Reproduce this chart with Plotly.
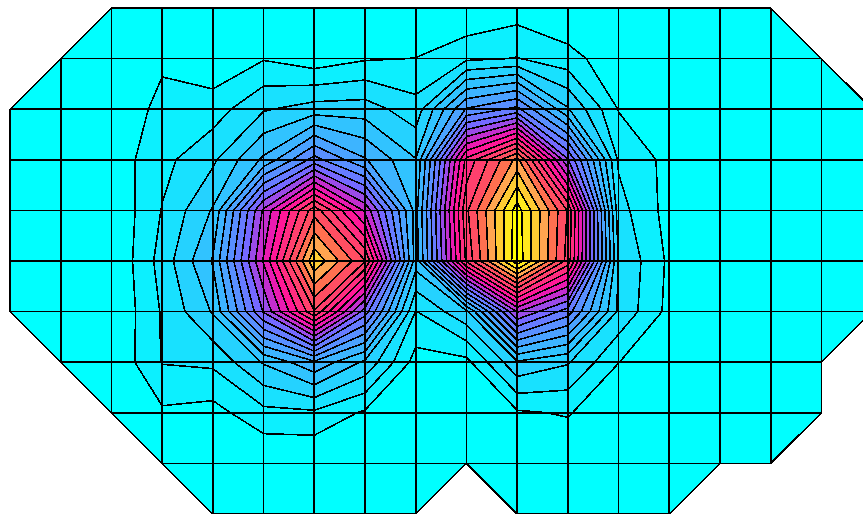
import plotly.graph_objects as go

N = None
z_rows = [
    [N, N, 0, 0, 0, 0, 0, 0, 0, 0, 0.48, 0, 0, 0, 0, 0, N, N],
    [N, 0, 0, 0.83, 0.25, 0.93, 0.39, 0.9, 1.02, 1.8, 2.05, 1.4, 0.3, 0, 0, 0, 0, N],
    [0, 0, 0.2, 1.3, 1.5, 2.9, 3.45, 3.5, 2.4, 7.1, 8.3, 4.1, 0.95, 0.2, 0, 0, 0, 0],
    [0, 0, 0.38, 1.7, 2.8, 5.2, 8.4, 6.1, 4.05, 14.3, 18.3, 10.1, 1.85, 0.7, 0, 0, 0, 0],
    [0, 0, 0.08, 2.05, 4.1, 11.2, 16.6, 11.8, 4.6, 15.8, 21.5, 15.9, 2.4, 0.6, 0, 0, 0, 0],
    [0, 0, 0, 2.4, 5.1, 12.1, 19.8, 16.05, 4.5, 15.2, 21.7, 15.6, 2.95, 0.8, 0, 0, 0, 0],
    [0, 0, 0, 2.1, 4.1, 10.1, 15.9, 9.5, 1.95, 3.8, 11.1, 8.5, 2.8, 0.7, 0, 0, 0, 0],
    [N, 0, 0.1, 2.05, 2.2, 4.1, 5.8, 3.8, 0.6, 0.7, 3.85, 3.1, 1.02, 0, 0, 0, 0, N],
    [N, N, 0, 0.83, 0.62, 1.7, 1.8, 0.85, 0, 0, 0.85, 1.1, 0, 0, 0, 0, 0, N],
    [N, N, N, 0, 0, 0, 0, 0, 0, 0, 0, 0, 0, 0, 0, 0, N, N],
    [N, N, N, N, 0, 0, 0, 0, 0, N, 0, 0, 0, 0, N, N, N, N],
]
x_nodes = list(range(18))
y_nodes = list(range(11))
colors = [
    [0.0, "#00ffff"], [0.25, "#40b0ff"], [0.43, "#7568ff"], [0.52, "#c030d0"],
    [0.6, "#ff10a0"], [0.7, "#ff3c70"], [0.77, "#ff5060"], [0.81, "#ff7050"],
    [0.86, "#ffa850"], [0.91, "#ffd030"], [0.95, "#ffe820"], [1.0, "#ffff00"],
]

def valid(r, c):
    return 0 <= r < len(y_nodes) and 0 <= c < len(x_nodes) and z_rows[r][c] is not None

gx, gy = [], []
wx, wy = [], []
def seg(r1, c1, r2, c2):
    gx.extend([x_nodes[c1], x_nodes[c2], None])
    gy.extend([y_nodes[r1], y_nodes[r2], None])
def patch(points):
    wx.extend([x_nodes[p[1]] for p in points] + [x_nodes[points[0][1]], None])
    wy.extend([y_nodes[p[0]] for p in points] + [y_nodes[points[0][0]], None])

for r in y_nodes:
    for c in x_nodes:
        if not valid(r, c):
            continue
        if valid(r, c + 1):
            seg(r, c, r, c + 1)
        if valid(r + 1, c):
            seg(r, c, r + 1, c)
for r in y_nodes[:-1]:
    for c in x_nodes[:-1]:
        corners = [(r, c), (r, c + 1), (r + 1, c + 1), (r + 1, c)]
        flags = [valid(*p) for p in corners]
        if sum(flags) == 3:
            i = flags.index(False)
            a, b = corners[(i + 1) % 4], corners[(i + 3) % 4]
            seg(a[0], a[1], b[0], b[1])
            patch([corners[i], a, b])
        elif sum(flags) < 3:
            patch(corners)

fig = go.Figure()
fig.add_trace(go.Contour(
    x=x_nodes, y=y_nodes, z=z_rows, colorscale=colors, zmin=0, zmax=21.5,
    autocontour=False, connectgaps=False, showscale=False, hoverinfo="skip",
    contours=dict(start=1, end=21, size=1, coloring="fill"),
    line=dict(color="black", width=1.6, smoothing=0),
))
fig.add_trace(go.Scatter(x=wx, y=wy, mode="lines", fill="toself", fillcolor="white",
                         hoverinfo="skip", showlegend=False, line=dict(color="white", width=0)))
fig.add_trace(go.Scatter(x=gx, y=gy, mode="lines", hoverinfo="skip", showlegend=False,
                         line=dict(color="black", width=1.6)))
fig.update_layout(
    width=863, height=514, margin=dict(l=0, r=0, t=0, b=0),
    paper_bgcolor="white", plot_bgcolor="white", showlegend=False,
    xaxis=dict(range=[-0.197, 16.82], visible=False),
    yaxis=dict(range=[10.0, -0.158], visible=False),
)
post = """
document.body.style.margin = '0';
function crisp() {
  document.querySelectorAll('svg.main-svg path').forEach(function (p) {
    p.style.shapeRendering = 'crispEdges';
  });
}
crisp();
setTimeout(crisp, 200);
"""
fig.write_html("out.html", config={"displayModeBar": False}, post_script=post)
